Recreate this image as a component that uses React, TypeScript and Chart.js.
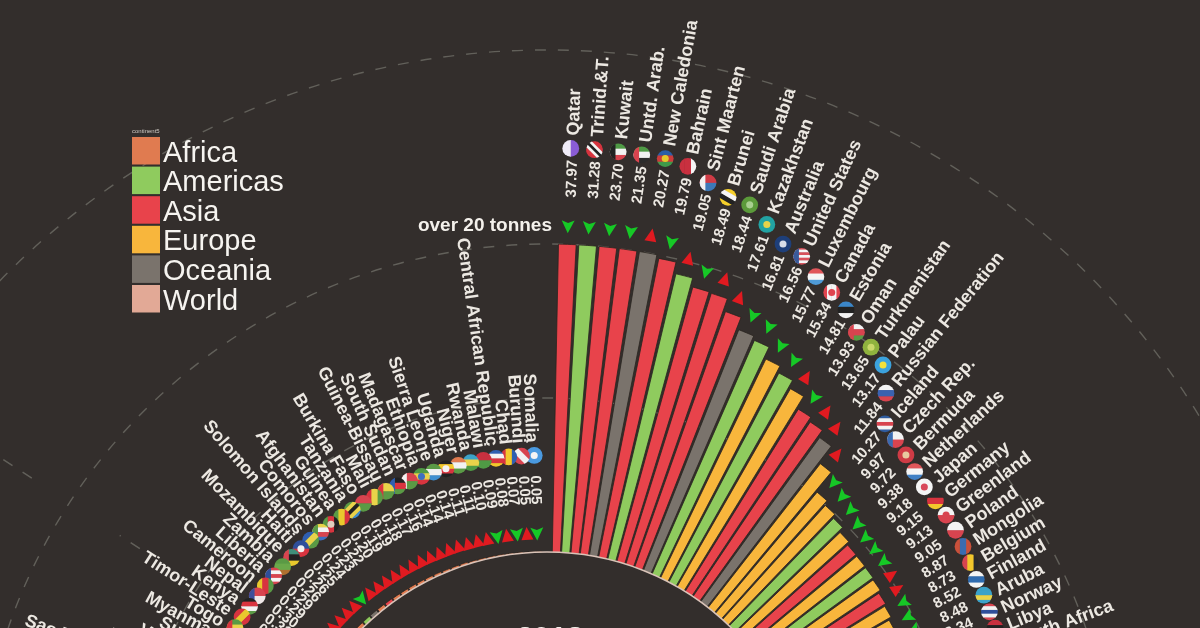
import React, { useEffect, useRef } from "react";
import { Chart, registerables } from "chart.js";

Chart.register(...registerables);

const BG = "#332e2c";
const TEXT = "#ece8e2";
const CONTINENTS = ["Africa", "Americas", "Asia", "Europe", "Oceania", "World"];
const CONTINENT_COLORS = ["#e07b50", "#8fcb5e", "#e8434b", "#f8b63c", "#7a736c", "#e2a996"];

// clockwise from the top
const rightNames = ["Qatar", "Trinid.&T.", "Kuwait", "Untd. Arab.", "New Caledonia", "Bahrain", "Sint Maarten", "Brunei", "Saudi Arabia", "Kazakhstan", "Australia", "United States", "Luxembourg", "Canada", "Estonia", "Oman", "Turkmenistan", "Palau", "Russian Federation", "Iceland", "Czech Rep.", "Bermuda", "Netherlands", "Japan", "Germany", "Greenland", "Poland", "Mongolia", "Belgium", "Finland", "Aruba", "Norway", "Libya", "South Africa"];
const rightValues = [37.97, 31.28, 23.7, 21.35, 20.27, 19.79, 19.05, 18.49, 18.44, 17.61, 16.81, 16.56, 15.77, 15.34, 14.81, 13.93, 13.65, 13.17, 11.84, 10.27, 9.97, 9.72, 9.38, 9.18, 9.15, 9.13, 9.05, 8.87, 8.73, 8.52, 8.48, 8.34, 8.25, 8.1];
const rightContinents = [2, 1, 2, 2, 4, 2, 1, 2, 2, 2, 4, 1, 3, 1, 3, 2, 2, 4, 3, 3, 3, 1, 3, 2, 3, 1, 3, 2, 3, 3, 1, 3, 0, 0];
const rightTrend = [-1, -1, -1, -1, 1, -1, 1, -1, 1, 1, -1, -1, -1, -1, 1, -1, 1, 1, 1, -1, -1, -1, -1, -1, -1, -1, 1, 1, -1, -1, -1, -1, -1, -1];

// counter-clockwise from the top
const leftNames = ["Somalia", "Burundi", "Chad", "Central African Republic", "Malawi", "Rwanda", "Niger", "Uganda", "Sierra Leone", "Ethiopia", "Madagascar", "South Sudan", "Guinea-Bissau", "Mali", "Burkina Faso", "Tanzania", "Guinea", "Afghanistan", "Comoros", "Solomon Islands", "Haiti", "Mozambique", "Zambia", "Liberia", "Cameroon", "Nepal", "Kenya", "Timor-Leste", "Togo", "Myanmar", "Sudan", "Vanuatu", "Philippines", "Sao Tome & Principe"];
const leftValues = [0.05, 0.05, 0.07, 0.08, 0.09, 0.1, 0.11, 0.11, 0.14, 0.14, 0.14, 0.16, 0.17, 0.18, 0.19, 0.19, 0.2, 0.22, 0.23, 0.24, 0.25, 0.26, 0.26, 0.29, 0.29, 0.3, 0.31, 0.33, 0.35, 0.36, 0.38, 0.39, 0.41, 0.43];
const leftContinents = [0, 0, 0, 0, 0, 0, 0, 0, 0, 0, 0, 0, 0, 0, 0, 0, 0, 2, 0, 4, 1, 0, 0, 0, 0, 2, 0, 2, 0, 2, 0, 4, 2, 0];
const leftTrend = [-1, 1, -1, 1, -1, 1, 1, 1, 1, 1, 1, 1, 1, 1, 1, 1, 1, 1, 1, -1, 1, 1, 1, 1, 1, 1, 1, 1, 1, 1, 1, 1, 1, 1];

const ringTicks = [10, 20, 32.6];
const spokeSegments = [[486, 510], [615, 655]];

type Flag = { r?: number; c: string[]; dot?: string; hoist?: string };
const FLAGS: Record<string, Flag> = {
  Qatar: { r: 90, c: ["#8a5cd6", "#f0ecf8"] },
  "Trinid.&T.": { r: 45, c: ["#d8343f", "#d8343f", "#f4f4f4", "#222", "#f4f4f4", "#d8343f", "#d8343f"] },
  Kuwait: { c: ["#4f9a45", "#f2f2f2", "#d8444f"], hoist: "#222" },
  "Untd. Arab.": { c: ["#4f9a45", "#f2f2f2", "#2c2c2c"], hoist: "#d8444f" },
  "New Caledonia": { c: ["#2b5fa8", "#cc3b3b", "#3f9a4a"], dot: "#e4c92d" },
  Bahrain: { r: 90, c: ["#f4f4f4", "#c9303f", "#c9303f"] },
  "Sint Maarten": { c: ["#cf3b45", "#3d79b8"], hoist: "#f2f2f2" },
  Brunei: { r: 30, c: ["#f5cf2b", "#f5f5f5", "#222", "#f5cf2b"] },
  "Saudi Arabia": { c: ["#5b9a3a"], dot: "#a8cf90" },
  Kazakhstan: { c: ["#22a3a3"], dot: "#e7d34a" },
  Australia: { c: ["#1e3f7a"], dot: "#d8dde8" },
  "United States": { c: ["#d8505a", "#f4f4f4", "#d8505a", "#f4f4f4", "#d8505a", "#f4f4f4", "#d8505a"], hoist: "#3a5a9a" },
  Luxembourg: { c: ["#e0565a", "#f5f5f5", "#4f9ad6"] },
  Canada: { r: 90, c: ["#e0444f", "#f5f5f5", "#f5f5f5", "#e0444f"], dot: "#e0444f" },
  Estonia: { c: ["#3b87c9", "#222", "#f2f2f2"] },
  Oman: { c: ["#f2f2f2", "#d8444f", "#5a9a45"], hoist: "#d8444f" },
  Turkmenistan: { c: ["#8fb23e"], dot: "#c9d86a" },
  Palau: { c: ["#3ba2dd"], dot: "#f3e13a" },
  "Russian Federation": { c: ["#f4f4f4", "#3a62b0", "#d8444f"] },
  Iceland: { c: ["#2f5c9f", "#f4f4f4", "#d8444f", "#f4f4f4", "#2f5c9f"] },
  "Czech Rep.": { c: ["#f2f2f2", "#d8444f"], hoist: "#3b6cb0" },
  Bermuda: { c: ["#cf3b45"], dot: "#e8c9a0" },
  Netherlands: { c: ["#e0565a", "#f5f5f5", "#3f7fc4"] },
  Japan: { c: ["#f5f5f5"], dot: "#d8485a" },
  Germany: { c: ["#2b2b2b", "#d8343f", "#f2c72c"] },
  Greenland: { c: ["#f4f4f4", "#d8444f"], dot: "#d8444f" },
  Poland: { c: ["#f4f4f4", "#d8444f"] },
  Mongolia: { r: 90, c: ["#c9503a", "#3b6cb0", "#c9503a"] },
  Belgium: { r: 90, c: ["#2b2b2b", "#f2c72c", "#d8444f"] },
  Finland: { r: 0, c: ["#f4f4f4", "#2f6cb0", "#f4f4f4"] },
  Aruba: { c: ["#3ba2c9", "#3ba2c9", "#e9d34a", "#3ba2c9"] },
  Norway: { c: ["#d8444f", "#f2f2f2", "#2f4f9a", "#f2f2f2", "#d8444f"] },
  Libya: { c: ["#c9303f", "#222", "#4f9a45"] },
  "South Africa": { c: ["#d8444f", "#3f8f4a", "#2b4f9a"] },
  Somalia: { c: ["#4a9ae0"], dot: "#f4f4f4" },
  Burundi: { r: 45, c: ["#d8444f", "#f2f2f2", "#d8444f"] },
  Chad: { r: 90, c: ["#2f5fb0", "#f2c72c", "#d8343f"] },
  "Central African Republic": { c: ["#2f5fb0", "#f2f2f2", "#d8343f", "#f2c72c"] },
  Malawi: { c: ["#c9303f", "#4f9a45"] },
  Rwanda: { c: ["#3ba2c9", "#e9d34a", "#4f9a45"] },
  Niger: { c: ["#e07b50", "#f2f2f2", "#5a9a45"] },
  Uganda: { c: ["#222", "#f2c72c", "#d8343f", "#222"], dot: "#f2f2f2" },
  "Sierra Leone": { c: ["#5a9a45", "#f2f2f2", "#3f8fd0"] },
  Ethiopia: { c: ["#4f9a45", "#e9d34a", "#d8343f"], dot: "#3f6fc0" },
  Madagascar: { c: ["#d8444f", "#5a9a45"], hoist: "#f2f2f2" },
  "South Sudan": { c: ["#222", "#d8343f", "#5a9a45"], hoist: "#2f5fb0" },
  "Guinea-Bissau": { c: ["#e9d34a", "#5a9a45"], hoist: "#d8343f" },
  Mali: { r: 90, c: ["#5a9a45", "#e9d34a", "#d8343f"] },
  "Burkina Faso": { c: ["#d8444f", "#5a9a45"] },
  Tanzania: { r: -45, c: ["#5a9a45", "#e9d34a", "#222", "#e9d34a", "#3f8fd0"] },
  Guinea: { r: 90, c: ["#d8343f", "#e9c92d", "#5a9a45"] },
  Afghanistan: { r: 90, c: ["#222", "#d8343f", "#5a9a45"], dot: "#e0d0c0" },
  Comoros: { c: ["#e9d34a", "#f2f2f2", "#d8444f", "#3f6fc0"], hoist: "#5a9a45" },
  "Solomon Islands": { r: -45, c: ["#2f5fb0", "#e9d34a", "#5a9a45"] },
  Haiti: { c: ["#2f4f9a", "#d8343f"], dot: "#f2f2f2" },
  Mozambique: { c: ["#3f8f7a", "#222", "#e9c92d"], hoist: "#d8444f" },
  Zambia: { c: ["#5a9a45", "#6aa84a", "#b07030"] },
  Liberia: { c: ["#d8444f", "#f4f4f4", "#d8444f", "#f4f4f4", "#d8444f"], hoist: "#2f4f9a" },
  Cameroon: { r: 90, c: ["#5a9a45", "#d8343f", "#e9c92d"] },
  Nepal: { c: ["#d8444f", "#f0e8e8"], hoist: "#3f4f9a" },
  Kenya: { c: ["#222", "#d8343f", "#f2f2f2", "#5a9a45"] },
  "Timor-Leste": { r: -45, c: ["#d8343f", "#e9c92d", "#d8343f"] },
  Togo: { c: ["#5a9a45", "#e9d34a", "#5a9a45"], hoist: "#d8343f" },
  Myanmar: { c: ["#e9d34a", "#5a9a45", "#d8343f"], dot: "#f2f2f2" },
  Sudan: { c: ["#d8343f", "#f2f2f2", "#222"], hoist: "#5a9a45" },
  Vanuatu: { c: ["#d8343f", "#5a9a45"] },
  Philippines: { c: ["#2f4f9a", "#d8343f"] },
  "Sao Tome & Principe": { c: ["#5a9a45", "#e9d34a", "#5a9a45"] },
};

const STEP_R = 2.045;
const STEP_L = 2.04;
const BAR_SHARE = 0.87;
const PX_PER_UNIT = 15.4;
const INNER = 262;
const HALF = 1000;
const CX = 547;
const CY = 814;
const CAP = 20;

function drawFlag(ctx: CanvasRenderingContext2D, name: string, x: number, y: number) {
  const f = FLAGS[name] || { c: ["#888"] };
  const R = 8.4;
  ctx.save();
  ctx.translate(x, y);
  ctx.beginPath();
  ctx.arc(0, 0, R, 0, Math.PI * 2);
  ctx.clip();
  ctx.save();
  ctx.rotate(((f.r || 0) * Math.PI) / 180);
  const h = (2 * R + 2) / f.c.length;
  f.c.forEach((col, i) => {
    ctx.fillStyle = col;
    ctx.fillRect(-R - 1, -R - 1 + i * h, 2 * R + 2, h + 0.5);
  });
  ctx.restore();
  if (f.hoist) {
    ctx.fillStyle = f.hoist;
    ctx.fillRect(-R - 1, -R - 1, R * 0.8, 2 * R + 2);
  }
  if (f.dot) {
    ctx.fillStyle = f.dot;
    ctx.beginPath();
    ctx.arc(0, 0, R * 0.42, 0, Math.PI * 2);
    ctx.fill();
  }
  ctx.restore();
}

function drawTriangle(ctx: CanvasRenderingContext2D, x: number, y: number, theta: number, trend: number) {
  ctx.save();
  ctx.translate(x, y);
  ctx.rotate(theta);
  ctx.beginPath();
  if (trend > 0) {
    ctx.moveTo(0, -7);
    ctx.lineTo(6, 6);
    ctx.lineTo(-6, 6);
    ctx.fillStyle = "#e01a20";
  } else {
    ctx.moveTo(0, 7);
    ctx.lineTo(6.5, -6);
    ctx.lineTo(0, -3.5);
    ctx.lineTo(-6.5, -6);
    ctx.fillStyle = "#16c826";
  }
  ctx.closePath();
  ctx.fill();
  ctx.restore();
}

const overlay = {
  id: "overlay",
  afterDatasetsDraw(chart: any) {
    const { ctx } = chart;
    const scale = chart.scales.r;
    const xc = scale.xCenter;
    const yc = scale.yCenter;
    const dist = (v: number) => scale.getDistanceFromCenterForValue(v);
    const at = (r: number, th: number): [number, number] => [xc + r * Math.sin(th), yc - r * Math.cos(th)];

    ctx.save();
    // centre hole
    ctx.beginPath();
    ctx.arc(xc, yc, dist(0), 0, Math.PI * 2);
    ctx.fillStyle = BG;
    ctx.fill();
    ctx.strokeStyle = "#d9c3b8";
    ctx.lineWidth = 1.6;
    ctx.stroke();

    // broken radial guide
    ctx.strokeStyle = "#62605a";
    ctx.lineWidth = 1.5;
    ctx.setLineDash([11, 12]);
    const spokeTh = (-56.9 * Math.PI) / 180;
    spokeSegments.forEach(([a, b]) => {
      ctx.beginPath();
      ctx.moveTo(...at(a, spokeTh));
      ctx.lineTo(...at(b, spokeTh));
      ctx.stroke();
    });
    ctx.setLineDash([]);

    const labelOne = (name: string, value: number, trend: number, idx: number, side: number) => {
      const th = (side * idx * (side > 0 ? STEP_R : STEP_L) * Math.PI) / 180;
      const top = dist(Math.min(value, CAP));
      const [tx, ty] = at(top + 18, th);
      drawTriangle(ctx, tx, ty, th, trend);
      const [fx, fy] = at(top + 96, th);
      drawFlag(ctx, name, fx, fy);

      const [vx, vy] = at(top + 47, th);
      const [nx, ny] = at(top + 109, th);
      const rot = side > 0 ? th - Math.PI / 2 : th + Math.PI / 2;
      ctx.fillStyle = TEXT;
      ctx.textBaseline = "middle";
      ctx.textAlign = side > 0 ? "left" : "right";
      ctx.save();
      ctx.translate(vx, vy);
      ctx.rotate(rot);
      ctx.font = "bold 15px 'Liberation Sans'";
      ctx.fillText(value.toFixed(2), 0, side > 0 ? 2.5 : 0);
      ctx.restore();
      ctx.save();
      ctx.translate(nx, ny);
      ctx.rotate(rot);
      ctx.font = "bold 18px 'Liberation Sans'";
      ctx.fillText(name, 0, 2.5);
      ctx.restore();
    };
    rightNames.forEach((n, i) => labelOne(n, rightValues[i], rightTrend[i], i + 1, 1));
    leftNames.forEach((n, i) => labelOne(n, leftValues[i], leftTrend[i], i + 1, -1));

    // page-space annotations
    ctx.translate(xc - CX, yc - CY);
    ctx.fillStyle = "#f4f1ec";
    ctx.font = "bold 19px 'Liberation Sans'";
    ctx.textAlign = "right";
    ctx.textBaseline = "middle";
    ctx.fillText("over 20 tonnes", 552, 226);

    ctx.font = "bold 30px 'Liberation Sans'";
    ctx.textAlign = "center";
    ctx.textBaseline = "alphabetic";
    ctx.fillText("2018", 550, 647);

    ctx.textAlign = "left";
    ctx.textBaseline = "middle";
    ctx.font = "6px 'Liberation Sans'";
    ctx.fillStyle = "#cfcac4";
    ctx.fillText("continent5", 132, 131.5);
    CONTINENTS.forEach((c, i) => {
      const y = 137 + i * 29.6;
      ctx.fillStyle = CONTINENT_COLORS[i];
      ctx.fillRect(132, y, 28, 27.5);
      ctx.fillStyle = "#f6f4f0";
      ctx.font = "29px 'Liberation Sans'";
      ctx.fillText(c, 163, y + 16.5);
    });
    ctx.restore();
  },
};

export default function App() {
  const ref = useRef<HTMLCanvasElement>(null);
  useEffect(() => {
    const labels: string[] = [];
    const values: number[] = [];
    const colors: string[] = [];
    const angles: number[] = [];
    const push = (label: string, value: number, color: string, angle: number) => {
      labels.push(label);
      values.push(value);
      colors.push(color);
      angles.push(angle);
    };
    const barR = STEP_R * BAR_SHARE;
    const barL = STEP_L * BAR_SHARE;
    const startAt = STEP_R - barR / 2;
    rightNames.forEach((n, i) => {
      push(n, Math.min(rightValues[i], CAP), CONTINENT_COLORS[rightContinents[i]], barR);
      push("", 0, "rgba(0,0,0,0)", STEP_R - barR);
    });
    const L = leftNames.length;
    const hidden = 360 - L * STEP_L - barL / 2 - (startAt + rightNames.length * STEP_R);
    push("", 0, "rgba(0,0,0,0)", hidden);
    for (let i = L - 1; i >= 0; i--) {
      push(leftNames[i], leftValues[i], CONTINENT_COLORS[leftContinents[i]], barL);
      push("", 0, "rgba(0,0,0,0)", STEP_L - barL);
    }

    const chart = new Chart(ref.current as HTMLCanvasElement, {
      type: "polarArea",
      data: {
        labels,
        datasets: [
          {
            data: values,
            backgroundColor: colors,
            borderWidth: (c: any) => (labels[c.dataIndex] ? 0.8 : 0),
            borderColor: "#2a2520",
            angle: (c: any) => angles[c.dataIndex],
          } as any,
        ],
      },
      options: {
        responsive: false,
        animation: false,
        layout: { padding: 0 },
        plugins: { legend: { display: false }, tooltip: { enabled: false } },
        scales: {
          r: {
            min: -INNER / PX_PER_UNIT,
            max: (HALF - INNER) / PX_PER_UNIT,
            startAngle: startAt,
            afterBuildTicks: (s: any) => {
              s.ticks = ringTicks.map((value) => ({ value }));
            },
            ticks: { display: false },
            pointLabels: { display: false },
            angleLines: { display: false },
            grid: { circular: true, color: "#62605a", lineWidth: 1.4 },
            border: { dash: [11, 12] },
          },
        },
      } as any,
      plugins: [overlay],
    });
    return () => chart.destroy();
  }, []);

  return (
    <div style={{ position: "fixed", left: 0, top: 0, width: 1200, height: 628, overflow: "hidden", background: BG }}>
      <canvas
        ref={ref}
        width={HALF * 2}
        height={HALF * 2}
        style={{ position: "absolute", left: CX - HALF, top: CY - HALF, width: HALF * 2, height: HALF * 2 }}
      />
    </div>
  );
}
